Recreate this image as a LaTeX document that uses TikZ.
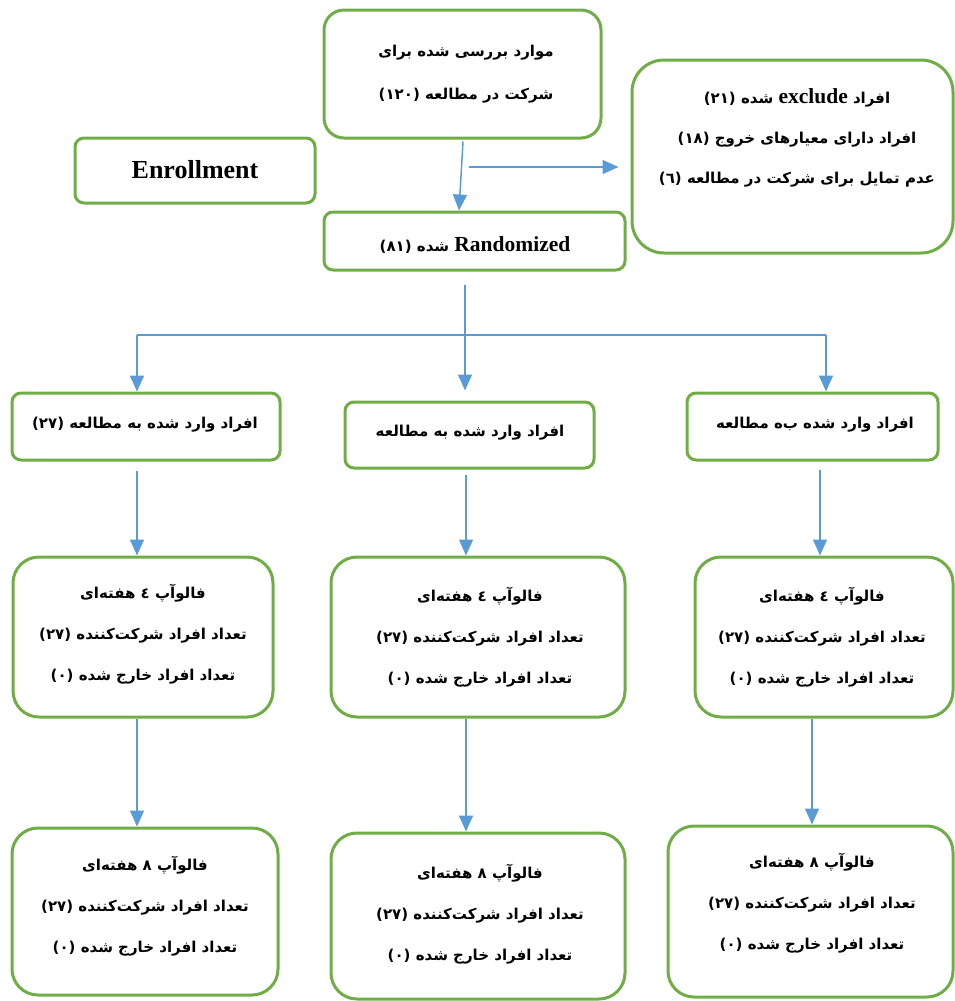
\documentclass[tikz,border=0pt]{standalone}
\usepackage{fontspec}
\setmainfont{Liberation Serif}
\newfontfamily\arabicfont[Script=Arabic]{DejaVu Sans}
\TeXXeTstate=1
\usetikzlibrary{arrows.meta,calc}
\definecolor{boxgreen}{HTML}{70AD47}
\definecolor{arrblue}{HTML}{5B9BD5}
\newcommand\arl[1]{{\arabicfont\bfseries\beginR #1\endR}}
\newcommand\lat[1]{{\rmfamily\bfseries\fontsize{21.5}{21.5}\selectfont #1}}
\tikzset{
  gbox/.style={draw=boxgreen, line width=3pt, inner sep=0pt, fill=white},
  txt/.style={align=center, inner sep=0pt, font=\fontsize{15}{41}\selectfont},
  arr/.style={draw=arrblue, line width=1.5pt, -{Triangle[length=16pt,width=14pt]}},
  plain/.style={draw=arrblue, line width=1.5pt},
}
\begin{document}
\begin{tikzpicture}[x=1pt,y=-1pt]
\useasboundingbox (0,0) rectangle (955,1001);
% boxes
\node[gbox, minimum width=277, minimum height=128, rounded corners=20] (A) at (462.5,74) {};
\node[gbox, minimum width=321, minimum height=193, rounded corners=32] (B) at (792.5,156.5) {};
\node[gbox, minimum width=240, minimum height=65, rounded corners=9] (C) at (195,170.5) {};
\node[gbox, minimum width=301, minimum height=58, rounded corners=9] (D) at (474.5,241) {};
\node[gbox, minimum width=268, minimum height=67, rounded corners=9] (E1) at (146,426.5) {};
\node[gbox, minimum width=249, minimum height=66, rounded corners=9] (E2) at (469.5,435) {};
\node[gbox, minimum width=251, minimum height=67, rounded corners=9] (E3) at (812.5,426.5) {};
\node[gbox, minimum width=260, minimum height=160, rounded corners=26] (F1) at (143,637) {};
\node[gbox, minimum width=294, minimum height=160, rounded corners=26] (F2) at (478,637) {};
\node[gbox, minimum width=258, minimum height=160, rounded corners=26] (F3) at (824,637) {};
\node[gbox, minimum width=266, minimum height=167, rounded corners=26] (G1) at (145,911.5) {};
\node[gbox, minimum width=294, minimum height=166, rounded corners=26] (G2) at (478,916) {};
\node[gbox, minimum width=285, minimum height=171, rounded corners=26] (G3) at (810.5,911.5) {};
% texts
\node[txt, font=\fontsize{15}{43}\selectfont] (tA) at (466,74) {\arl{موارد بررسی شده برای}\\\arl{شرکت در مطالعه (١٢٠)}};
\node[txt, font=\fontsize{15}{40}\selectfont] (tB) at (797,138) {\arl{افراد \lat{exclude} شده (٢١)}\\\arl{افراد دارای معیارهای خروج (١٨)}\\\arl{عدم تمایل برای شرکت در مطالعه (٦)}};
\node[txt, font=\rmfamily\bfseries\fontsize{26}{26}\selectfont] (tC) at (195,170) {Enrollment};
\node[txt] (tD) at (475,245) {\arl{\lat{Randomized} شده (٨١)}};
\node[txt] (tE1) at (145,425) {\arl{افراد وارد شده به مطالعه (٢٧)}};
\node[txt] (tE2) at (470,433) {\arl{افراد وارد شده به مطالعه}};
\node[txt] (tE3) at (815,425) {\arl{افراد وارد شده ب‌ه مطالعه}};
\node[txt] (tF1) at (143,634) {\arl{فالوآپ ٤ هفته‌ای}\\\arl{تعداد افراد شرکت‌کننده (٢٧)}\\\arl{تعداد افراد خارج شده (٠)}};
\node[txt] (tF2) at (480,637) {\arl{فالوآپ ٤ هفته‌ای}\\\arl{تعداد افراد شرکت‌کننده (٢٧)}\\\arl{تعداد افراد خارج شده (٠)}};
\node[txt] (tF3) at (822,637) {\arl{فالوآپ ٤ هفته‌ای}\\\arl{تعداد افراد شرکت‌کننده (٢٧)}\\\arl{تعداد افراد خارج شده (٠)}};
\node[txt] (tG1) at (145,906) {\arl{فالوآپ ٨ هفته‌ای}\\\arl{تعداد افراد شرکت‌کننده (٢٧)}\\\arl{تعداد افراد خارج شده (٠)}};
\node[txt] (tG2) at (480,914) {\arl{فالوآپ ٨ هفته‌ای}\\\arl{تعداد افراد شرکت‌کننده (٢٧)}\\\arl{تعداد افراد خارج شده (٠)}};
\node[txt] (tG3) at (812,903) {\arl{فالوآپ ٨ هفته‌ای}\\\arl{تعداد افراد شرکت‌کننده (٢٧)}\\\arl{تعداد افراد خارج شده (٠)}};
% connectors
\draw[arr] ($(A.south)+(0.5,2)$) -- ($(D.north)+(-15.5,0)$);
\coordinate (h1) at (469,167);
\draw[arr] (h1) -- ($(B.west|-h1)+(-12,0)$);
\coordinate (s) at ($(D.south)+(-9.5,13)$);
\coordinate (jL) at (137,335);
\coordinate (jR) at (826,335);
\draw[plain] (jL) -- (jR);
\draw[arr] (s) -- ($(s|-E2.north)+(0,-10)$);
\draw[arr] (jL) -- (jL|-E1.north);
\draw[arr] (jR) -- (jR|-E3.north);
\draw[arr] ($(E1.south)+(-9,9)$) -- ($(F1.north)+(-6,0)$);
\draw[arr] ($(E2.south)+(-3.5,5)$) -- ($(F2.north)+(-12,0)$);
\draw[arr] ($(E3.south)+(7.5,8)$) -- ($(F3.north)+(-4,0)$);
\draw[arr] ($(F1.south)+(-6,0)$) -- ($(G1.north)+(-8,0)$);
\draw[arr] ($(F2.south)+(-12,0)$) -- ($(G2.north)+(-12,0)$);
\draw[arr] ($(F3.south)+(-12,0)$) -- ($(G3.north)+(1.5,0)$);
\end{tikzpicture}
\end{document}
